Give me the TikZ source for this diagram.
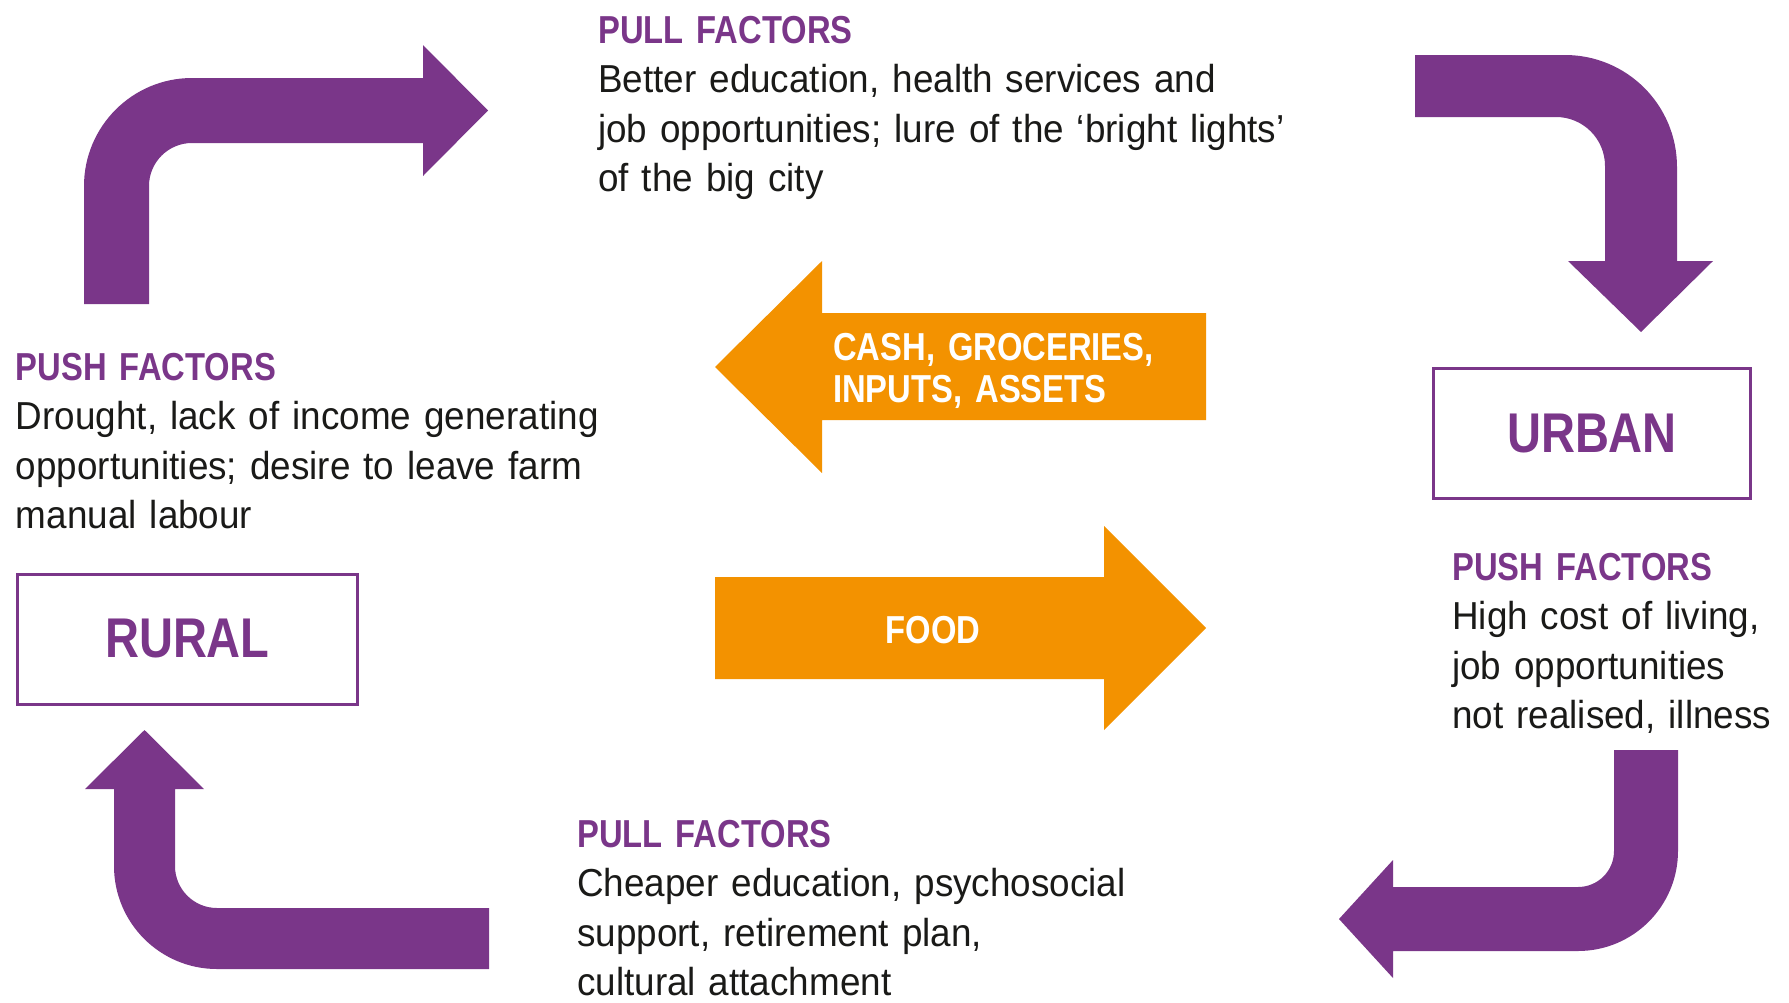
\documentclass[tikz,border=0pt]{standalone}
\usepackage{fontspec}
\newfontfamily\bodyfont[FakeStretch=0.945]{Liberation Sans}
\newfontfamily\headfont[FakeStretch=0.84]{Liberation Sans}
\definecolor{purp}{RGB}{122,54,137}
\definecolor{orng}{RGB}{243,146,0}
\definecolor{ink}{RGB}{26,26,24}
\tikzset{
  bentarrow/.style={fill=purp},
  flowarrow/.style={fill=orng},
  factortext/.style={anchor=base west, inner sep=0pt, text width=800pt, align=left,
    text=ink, font=\bodyfont\fontsize{39}{49.5}\selectfont},
  placebox/.style={draw=purp, line width=3pt, inner sep=0pt,
    minimum height=130pt, text=purp,
    font=\headfont\bfseries\fontsize{56}{60}\selectfont},
  flowtext/.style={inner sep=0pt, text=white,
    font=\headfont\bfseries\fontsize{39}{42}\selectfont}
}
\newcommand{\factorhead}[1]{{\headfont\bfseries\color{purp}#1}}
\begin{document}
\begin{tikzpicture}[x=1pt,y=-1pt]
\useasboundingbox (0,0) rectangle (1789,1002);

% rural -> city (top left)
\fill[bentarrow] (84,304) -- (84,186) .. controls (84,126.4) and (132.4,78) .. (192,78)
  -- (423,78) -- (423,45) -- (488,110.5) -- (423,176) -- (423,143) -- (192,143)
  .. controls (168.3,143) and (149,162.3) .. (149,186) -- (149,304) -- cycle;

% into the city (top right)
\fill[bentarrow] (1415,55) -- (1565,55) .. controls (1626.9,55) and (1677,105.1) .. (1677,167)
  -- (1677,261) -- (1713,261) -- (1641,332) -- (1568,261) -- (1605,261) -- (1605,166)
  .. controls (1605,138.9) and (1583.1,117) .. (1556,117) -- (1415,117) -- cycle;

% city -> rural (bottom right)
\fill[bentarrow] (1614,750) -- (1678,750) -- (1678,851) .. controls (1678,906.2) and (1633.2,951) .. (1578,951)
  -- (1393,951) -- (1393,978) -- (1339,919) -- (1393,860) -- (1393,887) -- (1578,887)
  .. controls (1597.9,887) and (1614,870.9) .. (1614,851) -- cycle;

% back to the village (bottom left)
\fill[bentarrow] (489,908) -- (217,908) .. controls (193.8,908) and (175,889.2) .. (175,866)
  -- (175,789) -- (204,789) -- (144.5,730) -- (85,789) -- (114,789) -- (114,866)
  .. controls (114,922.9) and (160.1,969) .. (217,969) -- (489,969) -- cycle;

% remittances and food flows
\fill[flowarrow] (1206,313) -- (822,313) -- (822,261) -- (715,367) -- (822,473) -- (822,420) -- (1206,420) -- cycle;
\fill[flowarrow] (715,577) -- (1104,577) -- (1104,526) -- (1206,628) -- (1104,730) -- (1104,679) -- (715,679) -- cycle;

\node[flowtext, anchor=base west, text width=400pt, align=left] (cash) at (833,360)
  {CASH, GROCERIES,\\INPUTS, ASSETS};
\node[flowtext, anchor=base] (food) at (933,643) {FOOD};

% places
\node[placebox, minimum width=340pt] (rural) at (187.4,639) {RURAL};
\node[placebox, minimum width=317pt] (urban) at (1592,433.5) {URBAN};

% factor texts
\node[factortext] (pulltop) at (598,43)
  {\factorhead{PULL FACTORS}\\Better education, health services and\\job opportunities; lure of the ‘bright lights’\\of the big city};
\node[factortext] (pushrural) at (15.8,380)
  {\factorhead{PUSH FACTORS}\\Drought, lack of income generating\\opportunities; desire to leave farm\\manual labour};
\node[factortext] (pushurban) at (1452,580)
  {\factorhead{PUSH FACTORS}\\High cost of living,\\job opportunities\\not realised, illness};
\node[factortext] (pullbottom) at (577,847)
  {\factorhead{PULL FACTORS}\\Cheaper education, psychosocial\\support, retirement plan,\\cultural attachment};
\end{tikzpicture}
\end{document}
